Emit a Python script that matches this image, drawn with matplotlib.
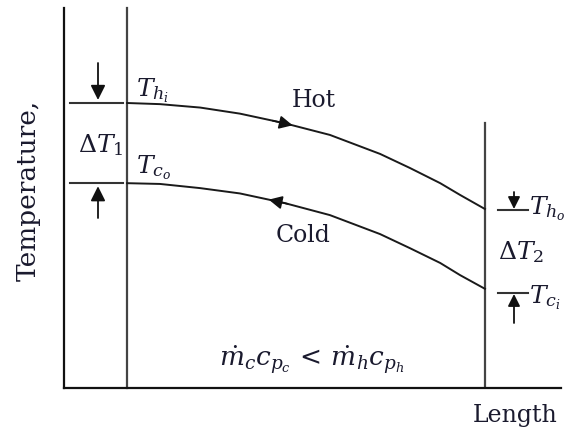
import numpy as np
import matplotlib
matplotlib.use("Agg")
import matplotlib.pyplot as plt

plt.rcParams['font.family'] = ['DejaVu Serif']
plt.rcParams['mathtext.fontset'] = 'dejavuserif'

# ---- data (length units 0..10, temperature units 0..100) ----
length = [1.27, 1.93, 2.74, 3.54, 4.43, 5.35, 6.36, 6.96, 7.57, 7.97, 8.47]
hot_temp = [75.0, 74.7, 73.8, 72.2, 69.7, 66.6, 61.6, 57.9, 53.9, 50.8, 47.1]
cold_temp = [53.9, 53.7, 52.6, 51.2, 48.7, 45.5, 40.5, 36.8, 32.9, 29.7, 26.1]
hot_arrow_at = [4.20, 4.60]    # tail, tip (hot flows to the right)
cold_arrow_at = [4.50, 4.12]   # tail, tip (cold flows to the left)

W, H = 579, 433
fig = plt.figure(figsize=(W / 100, H / 100), dpi=100)
ax = fig.add_axes([64 / W, 45 / H, 497 / W, 380 / H])
ax.set_xlim(0, 10)
ax.set_ylim(0, 100)
for s in ['top', 'right']:
    ax.spines[s].set_visible(False)
for s in ['left', 'bottom']:
    ax.spines[s].set_linewidth(1.6)
    ax.spines[s].set_color('#111111')
ax.set_xticks([])
ax.set_yticks([])


def X(px):
    return (px - 64) / 497 * 10


def Y(py):
    return (388 - py) / 380 * 100


x_in, x_out = length[0], length[-1]
# vertical inlet/outlet lines
ax.plot([x_in, x_in], [0, 100], color='#444444', lw=1.6, clip_on=False)
ax.plot([x_out, x_out], [0, Y(123)], color='#444444', lw=1.6)

# temperature curves
ax.plot(length, hot_temp, color='#1a1a1a', lw=1.4, solid_joinstyle='round')
ax.plot(length, cold_temp, color='#1a1a1a', lw=1.4, solid_joinstyle='round')

arrow_kw = dict(arrowstyle='-|>', color='#111111', lw=1.2,
                mutation_scale=20, shrinkA=0, shrinkB=0)
for pos, temps in [(hot_arrow_at, hot_temp), (cold_arrow_at, cold_temp)]:
    ys = np.interp(pos, length, temps)
    ax.annotate('', xy=(pos[1], ys[1]), xytext=(pos[0], ys[0]),
                arrowprops=arrow_kw)

# left marker lines and arrows (Delta T1)
ax.plot([X(70), X(123)], [hot_temp[0], hot_temp[0]], color='#333333', lw=1.5)
ax.plot([X(70), X(123)], [cold_temp[0], cold_temp[0]], color='#333333', lw=1.5)
ax.annotate('', xy=(X(98), hot_temp[0] + 0.8), xytext=(X(98), Y(63)),
            arrowprops=dict(arrowstyle='-|>', color='#111111', lw=1.3,
                            mutation_scale=22, shrinkA=0, shrinkB=0))
ax.annotate('', xy=(X(98), cold_temp[0] - 0.8), xytext=(X(98), Y(218)),
            arrowprops=dict(arrowstyle='-|>', color='#111111', lw=1.3,
                            mutation_scale=22, shrinkA=0, shrinkB=0))

# right marker lines and arrows (Delta T2)
ax.plot([X(498), X(528)], [Y(210), Y(210)], color='#333333', lw=1.5)
ax.plot([X(498), X(528)], [Y(293), Y(293)], color='#333333', lw=1.5)
ax.annotate('', xy=(X(514), Y(209)), xytext=(X(514), Y(192)),
            arrowprops=dict(arrowstyle='-|>', color='#111111', lw=1.3,
                            mutation_scale=18, shrinkA=0, shrinkB=0))
ax.annotate('', xy=(X(514), Y(294)), xytext=(X(514), Y(323)),
            arrowprops=dict(arrowstyle='-|>', color='#111111', lw=1.3,
                            mutation_scale=18, shrinkA=0, shrinkB=0))

tc = '#1a1a2e'
mfs = 18
tfs = 17
ax.text(X(136), Y(96), r'$T_{h_i}$', fontsize=mfs, color=tc, va='baseline')
ax.text(X(78), Y(152), r'$\Delta T_1$', fontsize=mfs, color=tc, va='baseline')
ax.text(X(136), Y(173), r'$T_{c_o}$', fontsize=mfs, color=tc, va='baseline')
ax.text(X(292), Y(107), 'Hot', fontsize=tfs, color=tc, va='baseline')
ax.text(X(276), Y(242), 'Cold', fontsize=tfs, color=tc, va='baseline')
ax.text(X(529), Y(214), r'$T_{h_o}$', fontsize=mfs, color=tc, va='baseline')
ax.text(X(498), Y(259), r'$\Delta T_2$', fontsize=mfs, color=tc, va='baseline')
ax.text(X(529), Y(303), r'$T_{c_i}$', fontsize=mfs, color=tc, va='baseline')
ax.text(X(312), Y(366), r'$\dot{m}_c c_{p_c}\,<\,\dot{m}_h c_{p_h}$',
        fontsize=19, color=tc, va='baseline', ha='center')
ax.text(X(473), Y(422), 'Length', fontsize=tfs, color=tc, va='baseline',
        clip_on=False)
ax.text(X(28), Y(190), 'Temperature,', fontsize=19, color=tc,
        rotation=90, ha='center', va='center', clip_on=False)

fig.savefig('out.png', dpi=100)
